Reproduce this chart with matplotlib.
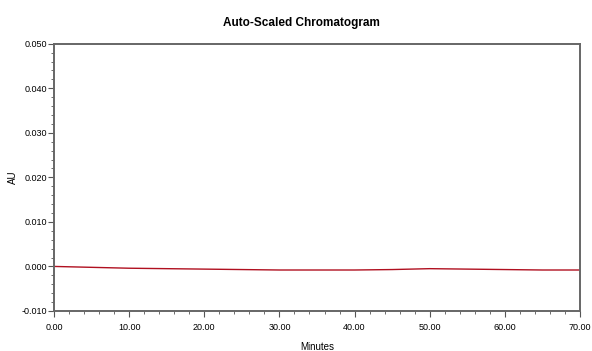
import matplotlib
matplotlib.use("Agg")
import matplotlib.pyplot as plt
import matplotlib.ticker as ticker

# retention time (minutes) and absorbance (AU)
minutes = [0, 5, 10, 15, 20, 25, 30, 35, 40, 45, 50, 55, 60, 65, 70]
au = [0.0000, -0.0002, -0.0004, -0.0005, -0.0006, -0.0007, -0.0008, -0.0008,
      -0.0008, -0.0007, -0.0005, -0.0006, -0.0007, -0.0008, -0.0008]

y_ticks = [-0.010, 0.000, 0.010, 0.020, 0.030, 0.040, 0.050]
x_ticks = [0, 10, 20, 30, 40, 50, 60, 70]

plt.rcParams['font.family'] = ['Liberation Sans Narrow', 'Liberation Sans', 'DejaVu Sans']

fig = plt.figure(figsize=(5.92, 3.51), dpi=100)
ax = fig.add_axes([0.0912, 0.114, 0.8885, 0.7615])

ax.plot(minutes, au, color='#b01020', linewidth=1.0)

ax.set_xlim(0, 70)
ax.set_ylim(-0.010, 0.050)
ax.set_xticks(x_ticks)
ax.set_yticks(y_ticks)
ax.xaxis.set_major_formatter(ticker.FormatStrFormatter('%.2f'))
ax.yaxis.set_major_formatter(ticker.FormatStrFormatter('%.3f'))
ax.xaxis.set_minor_locator(ticker.AutoMinorLocator(5))
ax.yaxis.set_minor_locator(ticker.AutoMinorLocator(5))
ax.tick_params(which='major', length=4, width=0.8, labelsize=6.5, color='#555555')
ax.tick_params(which='minor', length=2, width=0.6, color='#555555')
ax.tick_params(axis='x', which='major', pad=5)
ax.tick_params(axis='y', which='major', pad=1)

for s in ax.spines.values():
    s.set_color('#666666')
    s.set_linewidth(1.4)

ax.set_xlabel('Minutes', fontsize=7, labelpad=7)
ax.set_ylabel('AU', fontsize=7)
ax.yaxis.set_label_coords(-0.068, 0.5)  # label sits left of the tick labels
ax.set_title('Auto-Scaled Chromatogram', fontsize=8.5, fontweight='bold',
             x=0.47, pad=13)

fig.savefig('out.png', dpi=100)
